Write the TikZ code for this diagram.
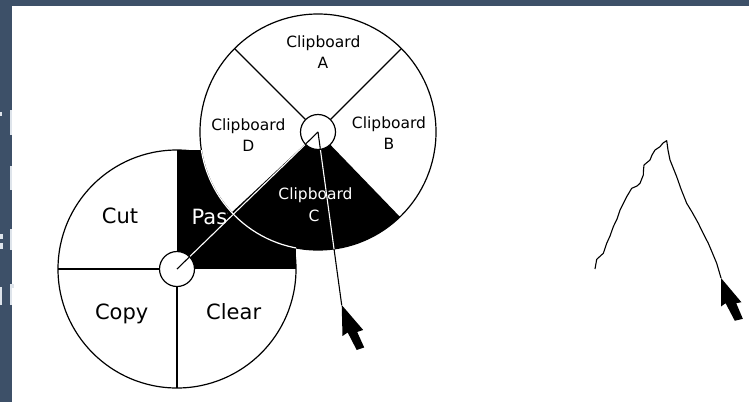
\documentclass[tikz,border=0pt]{standalone}
\usepackage{fontspec}
\setmainfont{DejaVu Sans}
\usetikzlibrary{calc}
\definecolor{slate}{RGB}{61,80,104}
\definecolor{ghost}{RGB}{222,228,235}
\begin{document}
\begin{tikzpicture}[x=1pt,y=-1pt,line join=round,
  outl/.style={draw=black,line width=1.2pt},
  divl/.style={draw=black,line width=1.1pt},
  band/.style={line width=1.1pt},
  small/.style={font=\fontsize{15.5}{17}\selectfont,inner sep=0pt,anchor=base},
  big/.style={font=\fontsize{21}{22}\selectfont,inner sep=0pt,anchor=base},
  hub/.style={circle,draw=black,line width=1.2pt,fill=white,minimum size=35pt,inner sep=0pt},
  arrowcur/.style={fill=black}]
\useasboundingbox (0,0) rectangle (749,402);
\fill[white] (0,0) rectangle (749,402);
\fill[slate] (0,0) rectangle (749,6);
\fill[slate] (0,0) rectangle (12,402);
% light fragments at the left border
\fill[ghost] (9.5,110) rectangle (12,135);
\fill[ghost] (0,112) rectangle (2,116);
\fill[ghost] (9.5,166) rectangle (12,190);
\fill[ghost] (9.5,229) rectangle (12,250);
\fill[ghost] (0,234) rectangle (2.5,239);
\fill[ghost] (0,243) rectangle (2.5,249);
\fill[ghost] (9.5,284) rectangle (12,305);
\fill[ghost] (9.5,284) rectangle (13.5,288);
\fill[ghost] (0,287) rectangle (2,305);

\coordinate (L) at (177,269);
\coordinate (U) at (318,132);
\coordinate (tipA) at (341.7,305);
\coordinate (tipB) at (721,278);

% lower pie menu
\draw[outl,fill=white] (L) circle[radius=119];
\draw[divl] ($(L)+(-119,0)$) -- ($(L)+(-17,0)$);
\draw[divl] ($(L)+(0,17)$) -- ($(L)+(0,119)$);
\fill[black] (177,150) rectangle (296,269);
\node[big] (tCut) at (120,223) {Cut};
\begin{scope}
  \clip (177,150) rectangle (227.8,269);
  \node[big,anchor=base west,text=white] (tPaste) at (191.5,224.5) {Paste};
\end{scope}
\node[big] (tCopy) at (121.7,319.5) {Copy};
\node[big] (tClear) at (233.7,319.5) {Clear};
\begin{scope}
  \clip (177,150) rectangle (296,269);
  \draw[white,band] (L) -- (U);
\end{scope}

% upper pie menu
\draw[outl,fill=white] (U) circle[radius=118];
\fill[black] (U) -- ($(U)+(46:118)$) arc[start angle=46,end angle=137,radius=118] -- cycle;
\begin{scope}
  \clip (177,150) rectangle (296,269);
  \draw[white,line width=1.2pt] (U) circle[radius=118];
\end{scope}
\draw[divl] ($(U)+(225:17)$) -- ($(U)+(225:118)$);
\draw[divl] ($(U)+(315:17)$) -- ($(U)+(315:118)$);
\node[small] (cA1) at (323.3,47.3) {Clipboard};
\node[small] (cA2) at (323,68.8) {A};
\node[small] (cD1) at (248.3,130) {Clipboard};
\node[small] (cD2) at (248.3,151.5) {D};
\node[small] (cB1) at (389,128.3) {Clipboard};
\node[small] (cB2) at (389,149.5) {B};
\node[small,text=white] (cC1) at (315.5,199.5) {Clipboard};
\node[small,text=white] (cC2) at (314,221.5) {C};

% rubber band lines
\draw[band] (U) -- (tipA);
\begin{scope}
  \clip (U) -- ($(U)+(46:118)$) arc[start angle=46,end angle=137,radius=118] -- cycle;
  \draw[white,band] (L) -- (U);
  \draw[white,band] (U) -- (tipA);
\end{scope}

% hubs
\node[hub] (hubL) at (L) {};
\node[hub] (hubU) at (U) {};
\begin{scope}
  \clip (L) circle[radius=17];
  \draw[band] (hubL.center) -- (hubU.center);
\end{scope}
\begin{scope}
  \clip (U) circle[radius=17];
  \draw[band] (hubL.center) -- (hubU.center);
  \draw[band] (hubU.center) -- (tipA);
\end{scope}

% cursor A
\fill[arrowcur,shift={(tipA)}] (0,0) -- (0.8,31) -- (6,27.5) -- (15,45) -- (22.5,42.5) -- (15.5,27) -- (21.5,25) -- cycle;

% free-hand stroke with cursor B
\draw[line width=1.1pt] (595,269) -- (596.7,259.3) -- (603.3,253.3) -- (606.7,243.3) -- (610,236) -- (613.3,226.7) -- (617,219) -- (620,210) -- (626.7,196.7) -- (631.7,188.3) -- (637,186) -- (640,183.3) -- (643.3,175) -- (643.5,170) -- (644,165) -- (650,160) -- (652,155) -- (655,150) -- (660,146.7) -- (663,143) -- (666.7,140.7) -- (668,150) -- (670,160) -- (676.7,176.7) -- (681,189) -- (686.7,203.3) -- (692,212) -- (698.3,223.3) -- (703,233) -- (708.3,243.3) -- (712,252) -- (716.7,263.3) -- (tipB);
\fill[arrowcur,shift={(tipB)},scale=0.95] (0,0) -- (0,30) -- (4.8,26.5) -- (14.5,45) -- (23,43) -- (16,26.5) -- (21.5,25.5) -- cycle;
\end{tikzpicture}
\end{document}
